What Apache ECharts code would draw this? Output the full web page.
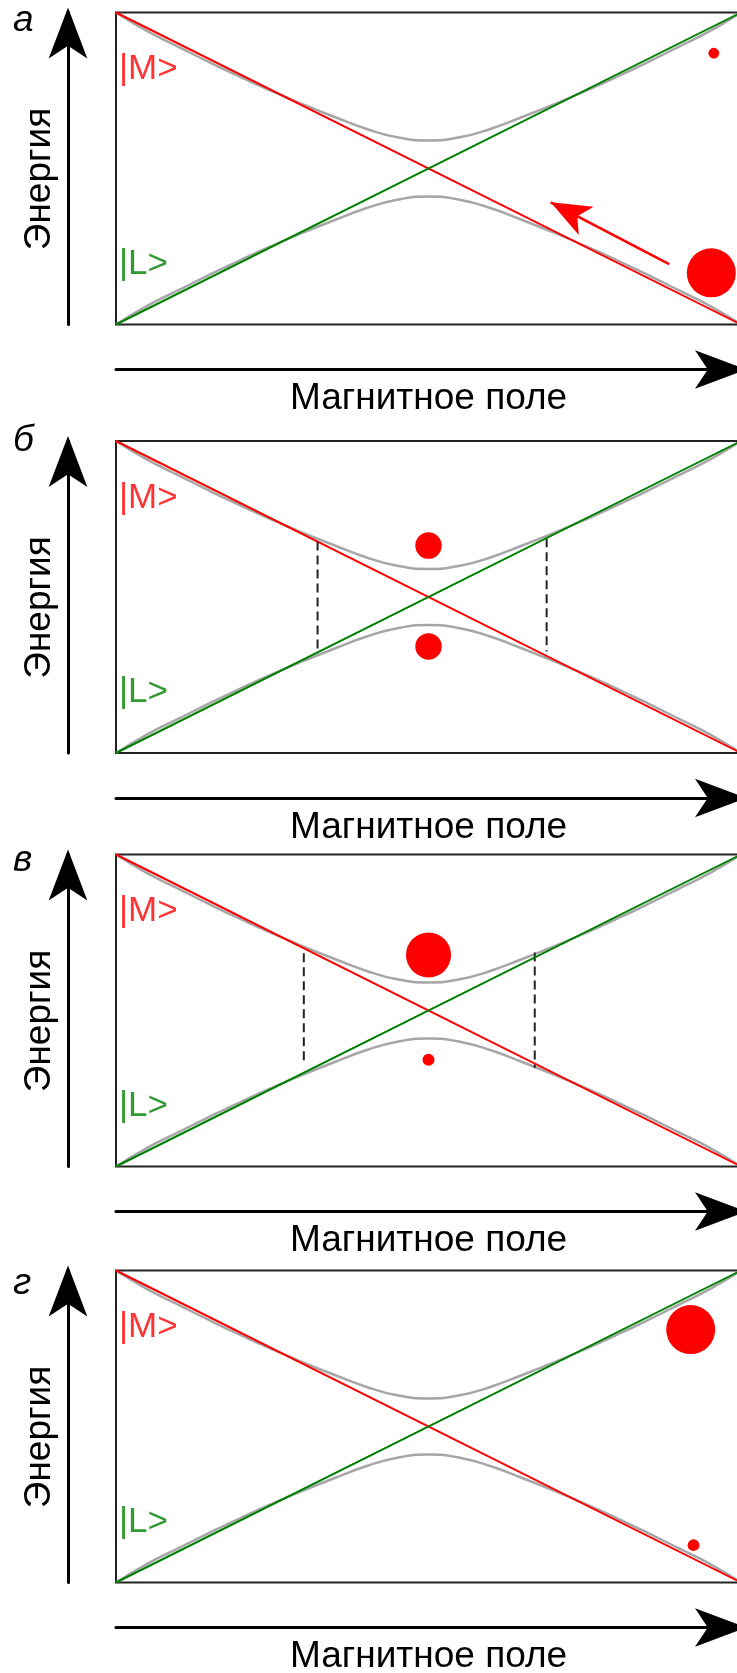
<!DOCTYPE html>
<html><head><meta charset="utf-8">
<script src="https://cdn.jsdelivr.net/npm/echarts@6/dist/echarts.min.js"></script>
<style>html,body{margin:0;padding:0;background:#fff}#c{width:737px;height:1673px}</style>
</head><body><div id="c"></div>
<script>
// Magnetic field (normalized) and adiabatic energy levels
const fieldX = [-1, -0.9, -0.8, -0.7, -0.6, -0.5, -0.4, -0.3, -0.2, -0.1, 0, 0.1, 0.2, 0.3, 0.4, 0.5, 0.6, 0.7, 0.8, 0.9, 1];
const upperEnergy = [1.0, 0.88, 0.78, 0.68, 0.585, 0.495, 0.41, 0.33, 0.255, 0.2, 0.18, 0.2, 0.255, 0.33, 0.41, 0.495, 0.585, 0.68, 0.78, 0.88, 1.0];
const lowerEnergy = [-1.0, -0.88, -0.78, -0.68, -0.585, -0.495, -0.41, -0.33, -0.255, -0.2, -0.18, -0.2, -0.255, -0.33, -0.41, -0.495, -0.585, -0.68, -0.78, -0.88, -1.0];
// Diabatic states
const stateM = [[-1, 1], [1, -1]];
const stateL = [[-1, -1], [1, 1]];
const stateNames = ['|M>', '|L>'];
const panelLetters = ['а', 'б', 'в', 'г'];
const axisNameX = 'Магнитное поле';
const axisNameY = 'Энергия';
// Population dots: [field, energy, relative size]
const dotsA = [[0.913, 0.739, 0.22], [0.905, -0.669, 1.0]];
const dotsB = [[0, 0.33, 0.54], [0, -0.317, 0.54]];
const dotsC = [[0, 0.356, 0.92], [0, -0.315, 0.245]];
const dotsD = [[0.839, 0.621, 1.0], [0.848, -0.761, 0.24]];
// Sweep arrow in panel a: [tail, tip]
const arrowA = [[0.77, -0.613], [0.391, -0.217]];
// Dashed markers: each [top, bottom]
const dashedB = [[[-0.355, 0.356], [-0.355, -0.343]], [[0.378, 0.377], [0.378, -0.35]]];
const dashedC = [[[-0.399, 0.367], [-0.399, -0.349]], [[0.34, 0.371], [0.34, -0.369]]];
const labelEnergyM = 0.633, labelEnergyL = -0.612;

const FONT = 'Liberation Sans';
const gridTops = [12.5, 441, 854.5, 1270.5];
const letterY = [21.2, 441.2, 861.2, 1284.2];

const grids = gridTops.map(t => ({left: 116, width: 625, top: t, height: 312, show: true,
  borderColor: '#222', borderWidth: 2, backgroundColor: 'transparent', outerBoundsMode: 'none'}));

const axisArrow = {symbol: ['none', 'arrow'], symbolSize: [29, 51], symbolOffset: [0, 5]};

const xAxes = gridTops.map((t, i) => ({gridIndex: i, type: 'value', min: -1, max: 1, position: 'bottom', offset: 45,
  axisLine: Object.assign({show: true, onZero: false, lineStyle: {color: '#000', width: 3}}, axisArrow),
  axisTick: {show: false}, axisLabel: {show: false}, splitLine: {show: false},
  name: axisNameX, nameLocation: 'middle', nameGap: 11,
  nameTextStyle: {fontSize: 37, fontFamily: FONT, color: '#000', lineHeight: 37}}));

const yAxes = gridTops.map((t, i) => ({gridIndex: i, type: 'value', min: -1, max: 1, position: 'left', offset: 48,
  axisLine: Object.assign({show: true, onZero: false, lineStyle: {color: '#000', width: 3}}, axisArrow),
  axisTick: {show: false}, axisLabel: {show: false}, splitLine: {show: false},
  name: axisNameY, nameLocation: 'middle', nameGap: 10,
  nameTextStyle: {fontSize: 37, fontFamily: FONT, color: '#000', lineHeight: 37, padding: [0, 21, 0, 0]}}));

function lineSeries(i, data, color, width, z, extra) {
  return Object.assign({type: 'line', xAxisIndex: i, yAxisIndex: i, data: data, symbol: 'none',
    lineStyle: {color: color, width: width}, clip: false, silent: true, z: z, animation: false}, extra || {});
}

const series = [];
const allDots = [dotsA, dotsB, dotsC, dotsD];
const allDashed = [null, dashedB, dashedC, null];
for (let i = 0; i < 4; i++) {
  series.push(lineSeries(i, fieldX.map((x, k) => [x, upperEnergy[k]]), '#a6a6a6', 2.5, 2, {smooth: true}));
  series.push(lineSeries(i, fieldX.map((x, k) => [x, lowerEnergy[k]]), '#a6a6a6', 2.5, 2, {smooth: true}));
  series.push(lineSeries(i, stateM, '#ff0000', 2, 3));
  series.push(lineSeries(i, stateL, '#008000', 2, 4));
  if (allDashed[i]) {
    allDashed[i].forEach(seg => series.push(lineSeries(i, seg, '#222', 2, 3, {lineStyle: {color: '#222', width: 2, type: [9, 5]}})));
  }
  series.push({type: 'scatter', xAxisIndex: i, yAxisIndex: i, data: allDots[i], symbol: 'circle',
    symbolSize: v => 49 * v[2], itemStyle: {color: '#ff0000', opacity: 1}, silent: true, z: 6, animation: false, clip: false});
  series.push({type: 'scatter', xAxisIndex: i, yAxisIndex: i, symbolSize: 1, itemStyle: {color: 'rgba(0,0,0,0)'},
    silent: true, z: 6, animation: false, clip: false,
    data: [
      {value: [-1, labelEnergyM], label: {show: true, position: 'right', distance: 2.5, formatter: stateNames[0], color: '#ff0000', fontSize: 35, fontFamily: FONT}},
      {value: [-1, labelEnergyL], label: {show: true, position: 'right', distance: 2.5, formatter: stateNames[1], color: '#008000', fontSize: 35, fontFamily: FONT}}
    ]});
}
// sweep arrow in panel a
series.push({type: 'line', xAxisIndex: 0, yAxisIndex: 0, showSymbol: true, silent: true, animation: false, clip: false, z: 7,
  lineStyle: {color: '#ff0000', width: 2.7}, itemStyle: {color: '#ff0000'},
  data: [{value: arrowA[0], symbol: 'none'}, {value: arrowA[1], symbol: 'arrow', symbolSize: [24, 40], symbolRotate: 62.5}]});

const graphicEls = panelLetters.map((l, i) => ({type: 'text', x: 13, y: letterY[i], silent: true,
  style: {text: l, font: 'italic 37px "' + FONT + '"', fill: '#000', verticalAlign: 'middle'}}));

const chart = echarts.init(document.getElementById('c'), null, {renderer: 'canvas'});
chart.setOption({animation: false, backgroundColor: '#fff', grid: grids, xAxis: xAxes, yAxis: yAxes,
  series: series, graphic: {elements: graphicEls}});
</script></body></html>
